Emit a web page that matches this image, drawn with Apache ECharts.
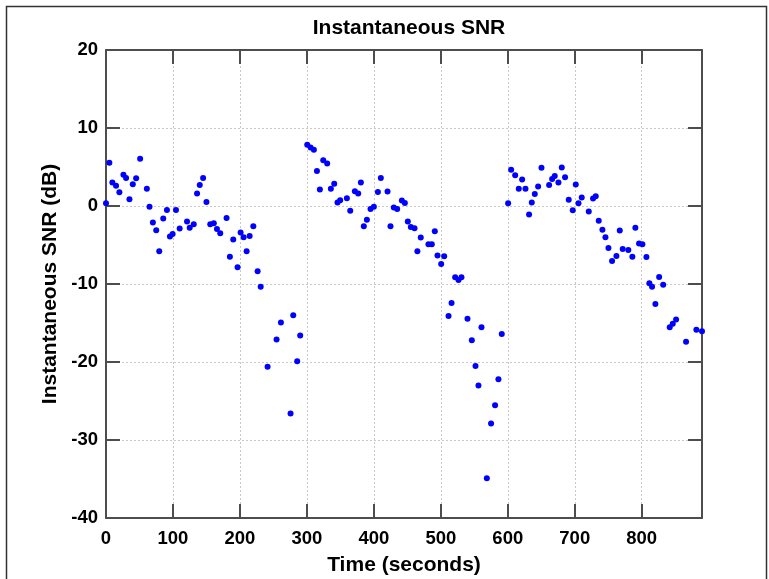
<!DOCTYPE html>
<html><head><meta charset="utf-8">
<script src="https://cdn.jsdelivr.net/npm/echarts@6/dist/echarts.min.js"></script>
<style>html,body{margin:0;padding:0;background:#fff}#c{width:769px;height:579px}</style>
</head><body><div id="c"></div>
<script>
const timeSec = [0,5,9.5,15,20,26,30,35,40,45,51,61,65,70,75,79.5,85.5,91,95.5,99.5,104.5,110,121,125,131,136,140,145,150,155.7,161,165.7,170.6,180,185,190,196.5,201,205.5,210,214.5,220,226.4,231,241.3,254.7,261.2,275.6,279.6,285.5,290,
300.5,305.5,310.4,315,319.4,324.4,330.3,335.8,340.8,345.7,349.7,359.7,364.7,371.6,376.6,380.6,385,389.6,395,400,406,410.4,420.4,424.8,429.8,434.8,441.8,446.3,450.7,455.2,460.7,465,470,481.5,486.5,491,495,500.5,505,511.5,516,521.4,526.4,530.8,539.8,546.3,551.8,556.2,560.7,568.7,575,581,586,591,
600.5,605,611,616.4,621.4,626.4,631.8,635.8,640.3,645.3,650.3,661.7,666.2,670.1,675.6,680.6,685.5,691,697,701.5,705.5,710.4,720.9,727.3,731.3,735.8,741.3,745.8,750.3,755.7,762.2,767.2,771.6,780,786,790.5,796,801,807,811.4,815.4,820.4,826,832,841.8,846.3,851.3,866.2,881.6,890];
const snrDb = [0.35,5.55,3.0,2.6,1.75,4.0,3.6,0.85,2.8,3.55,6.05,2.2,-0.1,-2.1,-3.1,-5.8,-1.6,-0.5,-3.9,-3.6,-0.5,-2.9,-2.0,-2.8,-2.35,1.6,2.7,3.6,0.5,-2.35,-2.2,-2.95,-3.5,-1.55,-6.5,-4.3,-7.85,-3.4,-4.0,-5.8,-3.85,-2.6,-8.35,-10.35,-20.6,-17.1,-14.95,-26.6,-14.0,-19.9,-16.6,
7.85,7.5,7.2,4.5,2.1,5.85,5.45,2.2,2.85,0.45,0.75,1.0,-0.6,1.9,1.6,3.0,-2.6,-1.75,-0.4,-0.1,1.8,3.6,1.85,-2.6,-0.2,-0.4,0.7,0.4,-2.0,-2.7,-2.85,-5.8,-4.05,-4.9,-4.9,-3.25,-6.35,-7.45,-6.45,-14.1,-12.45,-9.15,-9.5,-9.15,-14.45,-17.2,-20.5,-23.0,-15.55,-34.9,-27.9,-25.55,-22.2,-16.4,
0.35,4.65,3.95,2.2,3.4,2.2,-1.1,0.45,1.55,2.5,4.9,2.7,3.45,3.85,3.0,4.95,3.7,0.8,-0.55,2.75,0.35,1.1,-0.7,0.95,1.25,-1.9,-3.05,-4.0,-5.4,-7.05,-6.4,-3.15,-5.5,-5.65,-6.5,-2.8,-4.8,-4.9,-6.55,-9.9,-10.35,-12.55,-9.1,-10.1,-15.55,-15.1,-14.55,-17.4,-15.85,-16.05];
const xTicks = [0,100,200,300,400,500,600,700,800];
const yTicks = [-40,-30,-20,-10,0,10,20];

const points = timeSec.map((t,i)=>[t, snrDb[i]]);
const font = 'Liberation Sans, Arial, Helvetica, sans-serif';
const axisCol = '#4d4d4d';
const chart = echarts.init(document.getElementById('c'), null, {renderer:'canvas'});
const baseX = {type:'value', min:0, max:890, interval:100};
const baseY = {type:'value', min:-40, max:20, interval:10};
chart.setOption({
  animation:false,
  backgroundColor:'#fff',
  title:{text:'Instantaneous SNR', left:404, top:13, textAlign:'center',
    textStyle:{fontFamily:font, fontWeight:'bold', fontSize:21, color:'#000'}},
  grid:{left:106, top:50, width:596, height:468, containLabel:false, outerBoundsMode:'none'},
  xAxis:[
    Object.assign({}, baseX, {position:'bottom', name:'Time (seconds)', nameLocation:'middle', nameGap:37,
      nameTextStyle:{fontFamily:font, fontWeight:'bold', fontSize:21, color:'#000'},
      axisLine:{show:true, onZero:false, lineStyle:{color:axisCol, width:2}},
      axisTick:{show:true, inside:true, length:14, lineStyle:{color:axisCol, width:2}},
      axisLabel:{show:true, showMaxLabel:false, margin:11, fontFamily:font, fontWeight:'bold', fontSize:18.5, color:'#000',
        formatter:v=> xTicks.includes(v)? String(v):''},
      splitLine:{show:true, lineStyle:{color:'#c8c8c8', type:[2,2], width:1}}}),
    Object.assign({}, baseX, {position:'top',
      axisLine:{show:true, onZero:false, lineStyle:{color:axisCol, width:2}},
      axisTick:{show:true, inside:true, length:14, lineStyle:{color:axisCol, width:2}},
      axisLabel:{show:false}, splitLine:{show:false}})
  ],
  yAxis:[
    Object.assign({}, baseY, {position:'left', name:'Instantaneous SNR (dB)', nameLocation:'middle', nameGap:35,
      nameTextStyle:{fontFamily:font, fontWeight:'bold', fontSize:21, color:'#000'},
      axisLine:{show:true, onZero:false, lineStyle:{color:axisCol, width:2}},
      axisTick:{show:true, inside:true, length:14, lineStyle:{color:axisCol, width:2}},
      axisLabel:{show:true, margin:8, fontFamily:font, fontWeight:'bold', fontSize:18.5, color:'#000',
        formatter:v=> yTicks.includes(v)? String(v):''},
      splitLine:{show:true, lineStyle:{color:'#c8c8c8', type:[2,2], width:1}}}),
    Object.assign({}, baseY, {position:'right',
      axisLine:{show:true, onZero:false, lineStyle:{color:axisCol, width:2}},
      axisTick:{show:true, inside:true, length:14, lineStyle:{color:axisCol, width:2}},
      axisLabel:{show:false}, splitLine:{show:false}})
  ],
  graphic:[{type:'rect', left:4, top:4, shape:{width:760, height:590},
    style:{fill:null, stroke:'#333', lineWidth:1.5}, silent:true}],
  series:[{type:'scatter', xAxisIndex:0, yAxisIndex:0, data:points, symbol:'circle', symbolSize:6,
    itemStyle:{color:'#0000ff', opacity:1}, clip:false}]
});
</script></body></html>
